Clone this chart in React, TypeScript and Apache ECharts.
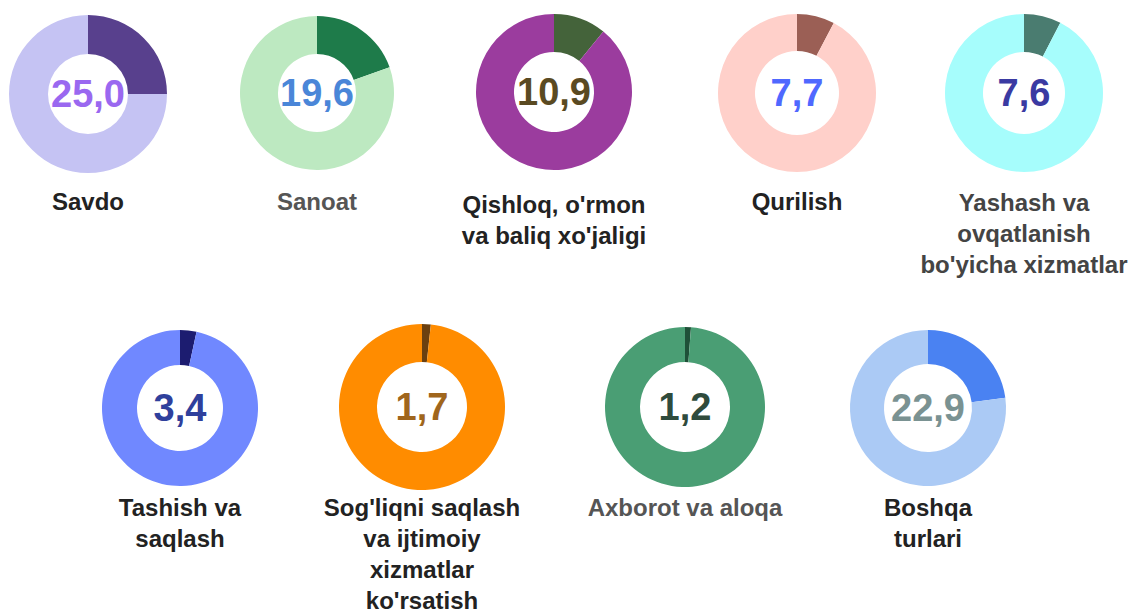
import React, { useEffect, useRef } from "react";
import * as echarts from "echarts";

const categories = [
  "Savdo",
  "Sanoat",
  "Qishloq, o'rmon\nva baliq xo'jaligi",
  "Qurilish",
  "Yashash va\novqatlanish\nbo'yicha xizmatlar",
  "Tashish va\nsaqlash",
  "Sog'liqni saqlash\nva ijtimoiy\nxizmatlar\nko'rsatish",
  "Axborot va aloqa",
  "Boshqa\nturlari",
];
const shares = [25.0, 19.6, 10.9, 7.7, 7.6, 3.4, 1.7, 1.2, 22.9];

const darkColors = ["#58408d", "#1e7b4a", "#44633a", "#9b5f55", "#4a7c70", "#1c1c70", "#6b4010", "#1f5038", "#4a82f2"];
const lightColors = ["#c5c3f3", "#bde9c1", "#9b3c9e", "#ffd0ca", "#a6fdfc", "#7088ff", "#ff8c00", "#4a9e74", "#abcaf5"];
const numberColors = ["#9a68f0", "#4a86d8", "#5a4a22", "#4f68ff", "#3a3aa2", "#2f409c", "#a0661c", "#2f4b3c", "#7a9292"];
const labelColors = ["#222222", "#555555", "#222222", "#222222", "#444444", "#222222", "#222222", "#555555", "#222222"];

const centers: [number, number][] = [
  [88, 94], [317, 93], [554, 92], [797, 93], [1024, 93],
  [180, 408], [422, 407], [685, 407], [928, 408],
];
const radii: [number, number][] = [
  [40, 79], [39, 77], [40, 78], [42, 79], [41, 79],
  [43, 78], [45, 83], [45, 80], [44, 78],
];
const labelTops = [186, 186, 189, 186, 187, 492, 492, 492, 492];

const FONT = "'Liberation Sans', Arial, sans-serif";

export default function App() {
  const ref = useRef<HTMLDivElement>(null);
  useEffect(() => {
    if (!ref.current) return;
    const chart = echarts.init(ref.current, undefined, { renderer: "svg" });
    const series = shares.map((v, i) => ({
      type: "pie",
      center: centers[i],
      radius: radii[i],
      startAngle: 90,
      clockwise: true,
      silent: true,
      labelLine: { show: false },
      emphasis: { disabled: true },
      data: [
        {
          value: v,
          name: "a" + i,
          itemStyle: { color: darkColors[i] },
          label: {
            show: true,
            position: "center",
            formatter: () => v.toFixed(1).replace(".", ","),
            fontFamily: FONT,
            fontWeight: "bold",
            fontSize: 38,
            color: numberColors[i],
          },
        },
        {
          value: 100 - v,
          name: "b" + i,
          itemStyle: { color: lightColors[i] },
          label: { show: false },
        },
      ],
    }));
    const titles = categories.map((c, i) => ({
      text: c,
      left: centers[i][0],
      top: labelTops[i],
      textAlign: "center",
      padding: 0,
      textStyle: {
        fontFamily: FONT,
        fontWeight: "bold",
        fontSize: 24,
        lineHeight: 31,
        color: labelColors[i],
      },
    }));
    chart.setOption({
      animation: false,
      backgroundColor: "#ffffff",
      title: titles,
      series,
    });
    return () => chart.dispose();
  }, []);
  return (
    <div
      ref={ref}
      style={{ position: "absolute", left: 0, top: 0, width: 1142, height: 613 }}
    />
  );
}
